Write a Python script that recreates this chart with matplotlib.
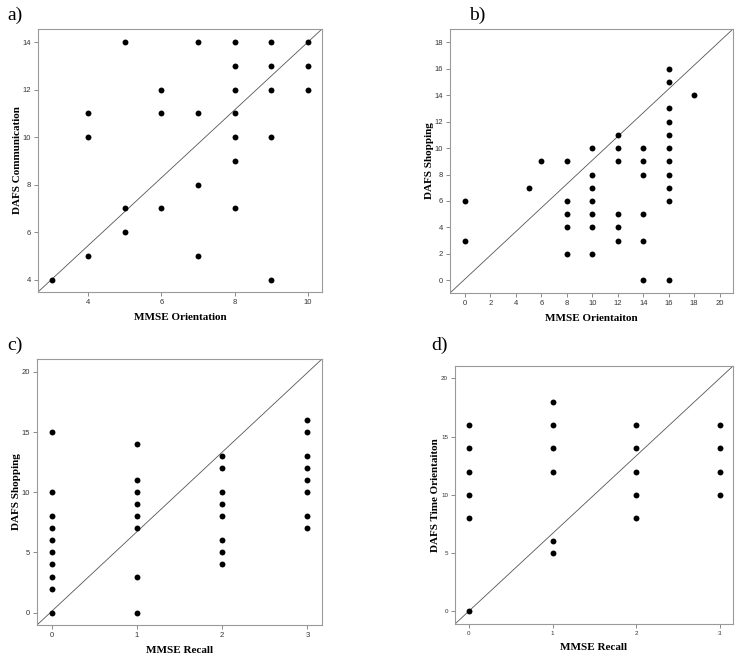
import numpy as np
import matplotlib
matplotlib.use('Agg')
import matplotlib.pyplot as plt

# a) MMSE Orientation vs DAFS Communication
a_x = [3, 4, 4, 4, 5, 5, 5, 6, 6, 6, 7, 7, 7, 7, 8, 8, 8, 8, 8, 8, 8, 9, 9, 9, 9, 9, 10, 10, 10]
a_y = [4, 5, 10, 11, 6, 7, 14, 7, 11, 12, 5, 8, 11, 14, 7, 9, 10, 11, 12, 13, 14, 4, 10, 12, 13, 14, 12, 13, 14]

# b) MMSE Orientation vs DAFS Shopping
b_x = [0, 0, 5, 6, 8, 8, 8, 8, 8, 10, 10, 10, 10, 10, 10, 10, 12, 12, 12, 12, 12, 12,
       14, 14, 14, 14, 14, 14, 16, 16, 16, 16, 16, 16, 16, 16, 16, 16, 16, 18]
b_y = [3, 6, 7, 9, 2, 4, 5, 6, 9, 2, 4, 5, 6, 7, 8, 10, 3, 4, 5, 9, 10, 11,
       0, 3, 5, 8, 9, 10, 0, 6, 7, 8, 9, 10, 11, 12, 13, 15, 16, 14]

# c) MMSE Recall vs DAFS Shopping
c_x = [0] * 10 + [1] * 8 + [2] * 8 + [3] * 8
c_y = [0, 2, 3, 4, 5, 6, 7, 8, 10, 15,
       0, 3, 7, 8, 9, 10, 11, 14,
       4, 5, 6, 8, 9, 10, 12, 13,
       7, 8, 10, 11, 12, 13, 15, 16]

# d) MMSE Recall vs DAFS Time Orientation
d_x = [0] * 6 + [1] * 6 + [2] * 5 + [3] * 4
d_y = [0, 8, 10, 12, 14, 16,
       5, 6, 12, 14, 16, 18,
       8, 10, 12, 14, 16,
       10, 12, 14, 16]

W, H = 740, 659
fig = plt.figure(figsize=(W / 100, H / 100), dpi=100)

def box(l, r, t, b):
    return [l / W, 1 - b / H, (r - l) / W, (b - t) / H]

panels = [
    ('a)', box(38, 322, 29, 292), a_x, a_y, 'MMSE Orientation', 'DAFS Communication',
     (2.63, 10.39), (3.48, 14.55), [4, 6, 8, 10], [4, 6, 8, 10, 12, 14], (15, 15), 5.5),
    ('b)', box(450, 733, 29, 293), b_x, b_y, 'MMSE Orientaiton', 'DAFS Shopping',
     (-1.18, 21.05), (-0.96, 19.01), list(range(0, 21, 2)), list(range(0, 19, 2)), (477, 15), 5.5),
    ('c)', box(37, 322, 359, 625), c_x, c_y, 'MMSE Recall', 'DAFS Shopping',
     (-0.17, 3.17), (-1.03, 21.08), [0, 1, 2, 3], [0, 5, 10, 15, 20], (15, 345), 5.5),
    ('d)', box(455, 733, 366, 624), d_x, d_y, 'MMSE Recall', 'DAFS Time Orientaiton',
     (-0.167, 3.16), (-1.09, 21.06), [0, 1, 2, 3], [0, 5, 10, 15, 20], (440, 345), 4.5),
]

for lab, rect, x, y, xl, yl, xlim, ylim, xt, yt, lpos, tfs in panels:
    ax = fig.add_axes(rect)
    ax.scatter(x, y, s=18, color='black', zorder=3, linewidths=0)
    ax.plot([0, 1], [0, 1], transform=ax.transAxes, color='#555555', lw=0.6)
    ax.set_xlim(xlim)
    ax.set_ylim(ylim)
    ax.set_xticks(xt)
    ax.set_yticks(yt)
    for s in ax.spines.values():
        s.set_color('#9a9a9a')
        s.set_linewidth(0.8)
    ax.tick_params(direction='out', length=3, width=0.6, color='#777777',
                   labelsize=tfs, labelcolor='#333333', pad=2)
    for t in ax.get_xticklabels() + ax.get_yticklabels():
        t.set_fontfamily('Liberation Sans')
    ax.set_xlabel(xl, fontfamily='Liberation Serif', fontweight='bold', fontsize=8, labelpad=5)
    ax.set_ylabel(yl, fontfamily='Liberation Serif', fontweight='bold', fontsize=8, labelpad=0.5)
    fig.text(lpos[0] / W, 1 - lpos[1] / H, lab, fontfamily='Liberation Serif', fontsize=14,
             ha='center', va='center')

fig.savefig('out.png', dpi=100)
